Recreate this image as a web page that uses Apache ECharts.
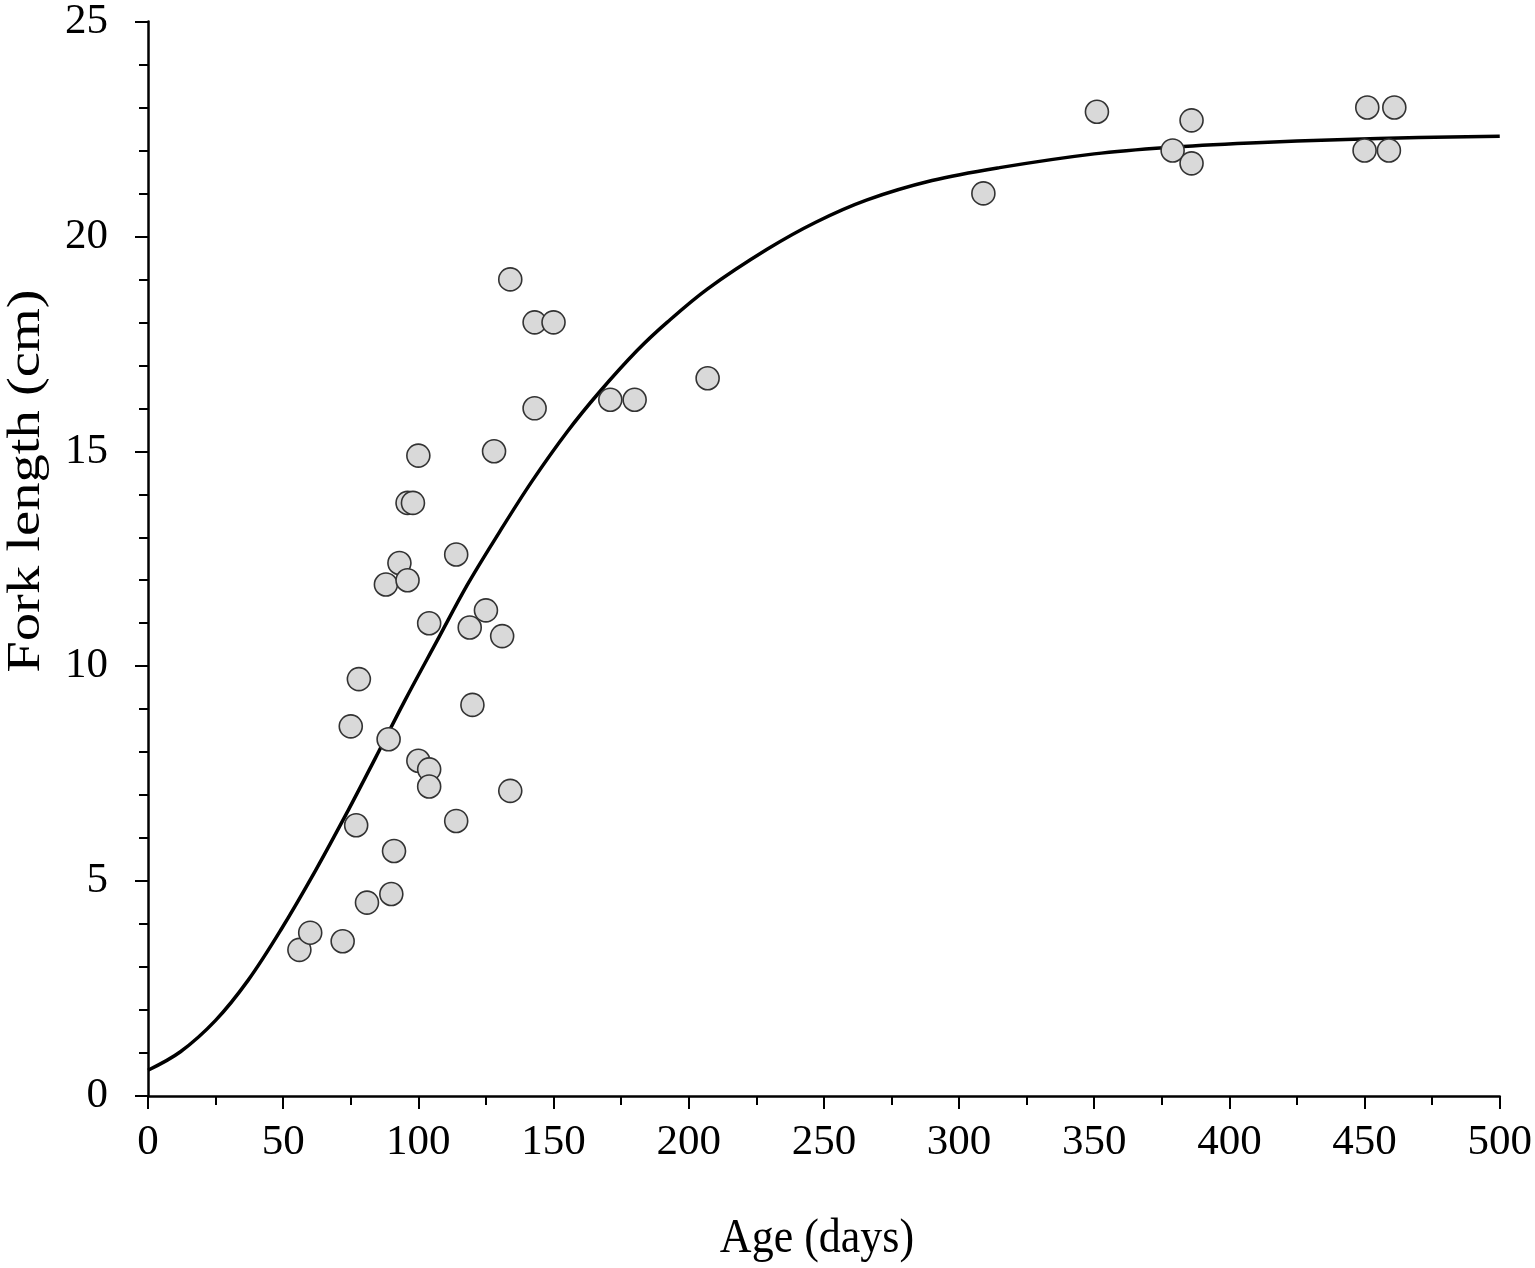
<!DOCTYPE html>
<html>
<head>
<meta charset="utf-8">
<title>Fork length vs age</title>
<script src="https://cdn.jsdelivr.net/npm/echarts@6/dist/echarts.min.js"></script>
<style>
  html, body { margin: 0; padding: 0; background: #fff; }
  #chart { width: 1535px; height: 1268px; }
</style>
</head>
<body>
<div id="chart"></div>
<script>
// fitted growth curve
const curveAge = [0, 12, 25, 37, 49, 62, 74, 84, 95, 107, 118, 130, 142, 155, 167, 181, 192, 207, 229, 247, 266, 290, 315, 350, 377, 410, 440, 470, 500];
const curveLength = [0.6, 1.03, 1.76, 2.69, 3.85, 5.25, 6.64, 7.85, 9.2, 10.6, 11.88, 13.12, 14.3, 15.45, 16.38, 17.35, 18.0, 18.78, 19.7, 20.33, 20.85, 21.3, 21.6, 21.92, 22.07, 22.18, 22.25, 22.3, 22.33];

// observed fish
const sampleAge = [56, 60, 72, 81, 90, 91, 77, 75, 78, 89, 88, 93, 96, 96, 98, 100, 100, 104, 104, 104, 114, 114, 119, 120, 125, 128, 131, 134, 134, 143, 143, 150, 171, 180, 207, 309, 351, 379, 386, 386, 450, 451, 459, 461];
const sampleLength = [3.4, 3.8, 3.6, 4.5, 4.7, 5.7, 6.3, 8.6, 9.7, 8.3, 11.9, 12.4, 12.0, 13.8, 13.8, 14.9, 7.8, 7.6, 7.2, 11.0, 12.6, 6.4, 10.9, 9.1, 11.3, 15.0, 10.7, 19.0, 7.1, 18.0, 16.0, 18.0, 16.2, 16.2, 16.7, 21.0, 22.9, 22.0, 22.7, 21.7, 22.0, 23.0, 22.0, 23.0];

const xTitle = 'Age (days)';
const yTitle = 'Fork length (cm)';

const serif = '"Liberation Serif", "Times New Roman", serif';

const chart = echarts.init(document.getElementById('chart'));

const axisCommon = {
    type: 'value',
    axisLine: { show: true, lineStyle: { color: '#000', width: 2.5 } },
    axisTick: { show: true, inside: false, length: 13, lineStyle: { color: '#000', width: 2 } },
    minorTick: { show: true, length: 9, lineStyle: { color: '#000', width: 2 } },
    splitLine: { show: false },
    minorSplitLine: { show: false },
    axisLabel: { color: '#000', fontFamily: serif, fontSize: 43 }
};

chart.setOption({
    backgroundColor: '#fff',
    animation: false,
    grid: { left: 148, right: 35, top: 19, bottom: 172 },
    xAxis: {
        ...axisCommon,
        min: 0,
        max: 500,
        interval: 50,
        minorTick: { ...axisCommon.minorTick, splitNumber: 2 },
        axisLabel: { ...axisCommon.axisLabel, margin: 25 }
    },
    yAxis: {
        ...axisCommon,
        min: 0,
        max: 25,
        interval: 5,
        minorTick: { ...axisCommon.minorTick, splitNumber: 5 },
        axisLabel: { ...axisCommon.axisLabel, margin: 40 }
    },
    graphic: [
        {
            type: 'text',
            x: 817,
            y: 1240,
            scaleY: 1.08,
            style: { text: xTitle, font: '44px ' + serif, fill: '#000', align: 'center', verticalAlign: 'middle' }
        },
        {
            type: 'text',
            x: 27,
            y: 481,
            rotation: Math.PI / 2,
            scaleX: 1.23,
            style: { text: yTitle, font: '46px ' + serif, fill: '#000', align: 'center', verticalAlign: 'middle' }
        }
    ],
    series: [
        {
            type: 'line',
            data: curveAge.map((a, i) => [a, curveLength[i]]),
            smooth: 0.35,
            showSymbol: false,
            lineStyle: { color: '#000', width: 3.5 },
            z: 2
        },
        {
            type: 'scatter',
            data: sampleAge.map((a, i) => [a, sampleLength[i]]),
            symbol: 'circle',
            symbolSize: 23,
            itemStyle: { color: '#d9d9d9', borderColor: '#333', borderWidth: 1.6, opacity: 1 },
            z: 3
        }
    ]
});
</script>
</body>
</html>
